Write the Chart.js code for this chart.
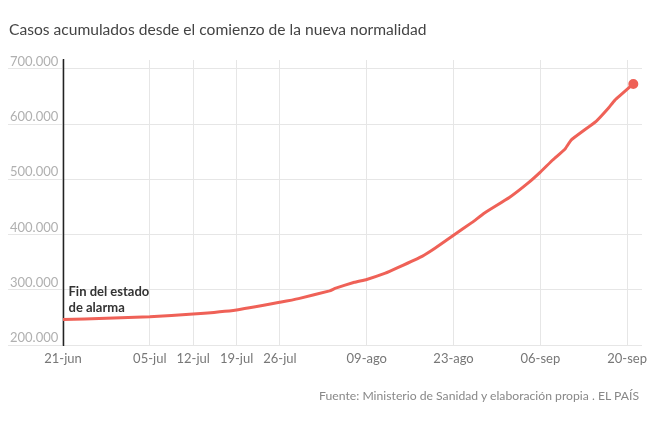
<!DOCTYPE html>
<html>
<head>
<meta charset="utf-8">
<script src="https://cdn.jsdelivr.net/npm/chart.js@4"></script>
<style>
  body { margin: 0; background: #fff; font-family: Lato, sans-serif; }
  #wrap { position: relative; width: 659px; height: 421px; }
  #title { position: absolute; left: 9px; top: 20px; font-size: 15.6px; color: #444; white-space: nowrap; }
  #source { position: absolute; right: 20px; top: 388px; font-size: 12.2px; color: #888; white-space: nowrap; }
  canvas { position: absolute; left: 0; top: 0; }
</style>
</head>
<body>
<div id="wrap">
  <canvas id="cases-chart" width="659" height="421"></canvas>
  <div id="title">Casos acumulados desde el comienzo de la nueva normalidad</div>
  <div id="source">Fuente: Ministerio de Sanidad y elaboración propia . EL PAÍS</div>
</div>
<script>
// DATA (day 0 = 21-jun)
const days = [0, 7, 14, 21, 28, 35, 38, 43, 44, 47, 49, 52, 54, 58, 60, 63, 66, 68, 72, 75, 77, 79, 81, 82, 86, 88, 89, 92];
const cases = [246000, 248500, 251000, 256000, 263500, 277500, 284000, 298000, 303000, 313500, 318700, 330000, 340000, 361000, 375000, 398700, 422000, 439000, 467000, 493000, 513000, 535000, 555000, 571500, 605000, 629000, 643000, 672700];
const tickDays = [0, 14, 21, 28, 35, 49, 63, 77, 91];
const tickLabels = ["21-jun", "05-jul", "12-jul", "19-jul", "26-jul", "09-ago", "23-ago", "06-sep", "20-sep"];
const yTicks = [200000, 300000, 400000, 500000, 600000, 700000];

const lineColor = "#ef6157";

// vertical line + note for "Fin del estado de alarma"
const alarmNote = {
    id: "alarmNote",
    beforeDatasetsDraw(chart) {
        const { ctx, chartArea, scales } = chart;
        const x = Math.round(scales.x.getPixelForValue(0)) + 0.5;
        ctx.save();
        ctx.strokeStyle = "#222";
        ctx.lineWidth = 1.5;
        ctx.beginPath();
        ctx.moveTo(x, chartArea.top - 1);
        ctx.lineTo(x, chartArea.bottom + 1);
        ctx.stroke();
        ctx.fillStyle = "#333";
        ctx.font = "bold 13px Lato";
        ctx.textAlign = "left";
        ctx.textBaseline = "alphabetic";
        const y = scales.y.getPixelForValue(288000);
        ctx.fillText("Fin del estado", x + 5, y);
        ctx.fillText("de alarma", x + 5, y + 16);
        ctx.restore();
    },
};

const ctx = document.getElementById("cases-chart").getContext("2d");

new Chart(ctx, {
    type: "line",
    data: {
        datasets: [{
            data: days.map((d, i) => ({ x: d, y: cases[i] })),
            borderColor: lineColor,
            backgroundColor: lineColor,
            borderWidth: 3,
            tension: 0.1,
            pointRadius: (c) => (c.dataIndex === days.length - 1 ? 3.5 : 0),
            pointHoverRadius: 0,
            fill: false,
        }],
    },
    options: {
        responsive: false,
        animation: false,
        layout: { padding: { left: 8, top: 60, right: 17, bottom: 46 } },
        plugins: { legend: { display: false }, tooltip: { enabled: false } },
        scales: {
            x: {
                type: "linear",
                min: -8.87,
                max: 93.4,
                afterBuildTicks: (s) => { s.ticks = tickDays.map((v) => ({ value: v })); },
                afterFit: (s) => { s.height = 30; },
                grid: { color: "#e6e6e6", drawTicks: false },
                border: { display: false },
                ticks: {
                    autoSkip: false,
                    maxRotation: 0,
                    padding: 6,
                    color: "#777",
                    font: { family: "Lato", size: 13 },
                    callback: (v) => tickLabels[tickDays.indexOf(v)],
                },
            },
            y: {
                min: 200000,
                max: 716000,
                afterBuildTicks: (s) => { s.ticks = yTicks.map((v) => ({ value: v })); },
                afterFit: (s) => { s.width = 0; },
                grid: { color: "#e6e6e6", drawTicks: false },
                border: { display: false },
                ticks: {
                    mirror: true,
                    padding: 2,
                    labelOffset: -7,
                    color: "#b0b0b0",
                    font: { family: "Lato", size: 13 },
                    callback: (v) => v.toLocaleString("de-DE"),
                },
            },
        },
    },
    plugins: [alarmNote],
});
</script>
</body>
</html>
